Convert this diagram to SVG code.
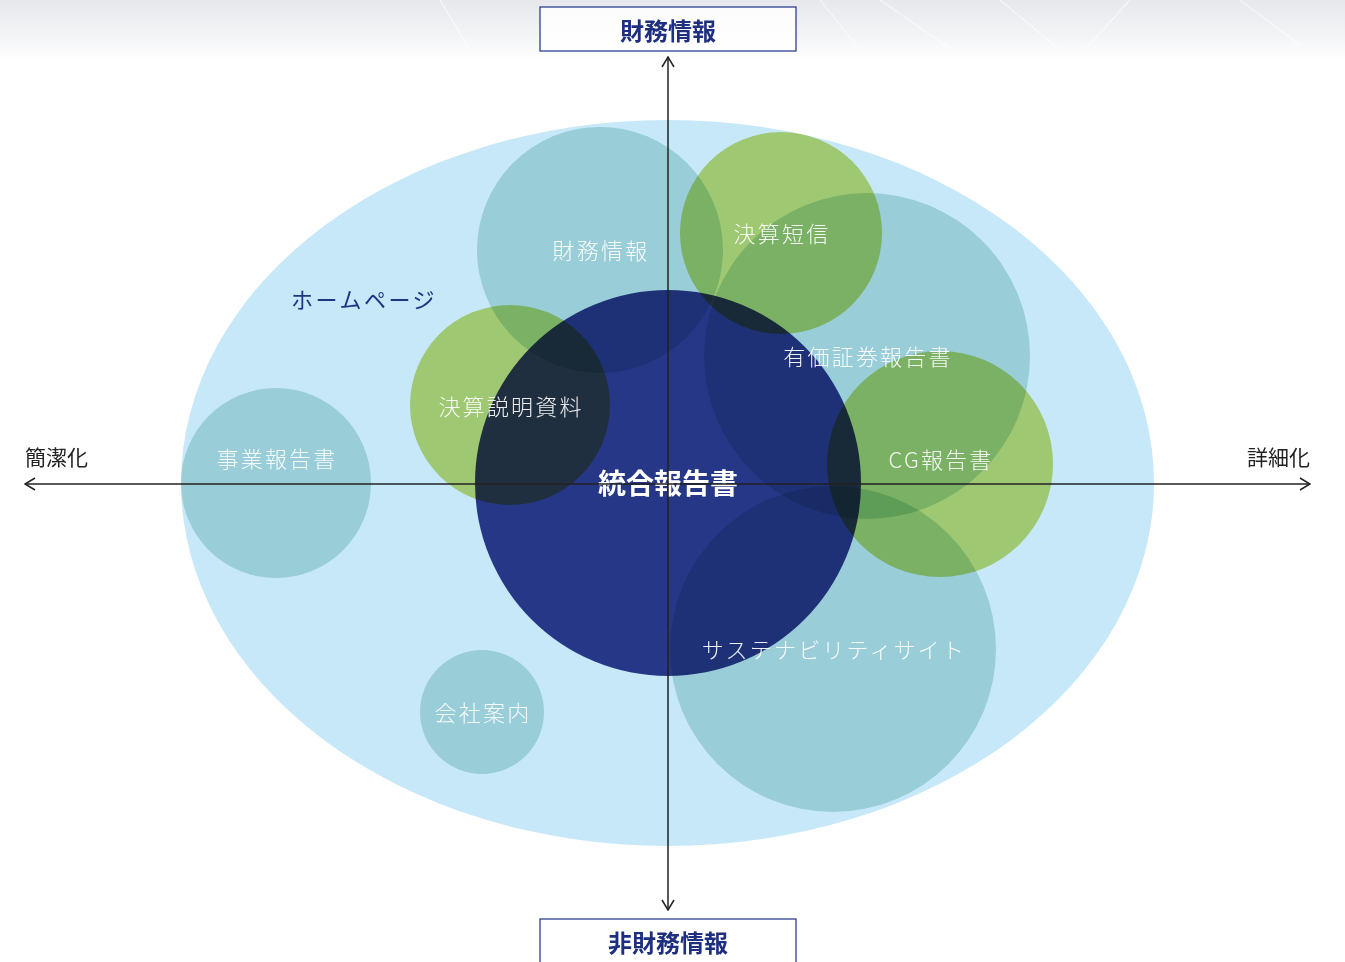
<svg xmlns="http://www.w3.org/2000/svg" width="1345" height="962" viewBox="0 0 1345 962">
<defs>
<linearGradient id="bg" x1="0" y1="0" x2="0" y2="1">
<stop offset="0" stop-color="#e6e8ec"/>
<stop offset="0.55" stop-color="#f2f3f5"/>
<stop offset="1" stop-color="#ffffff"/>
</linearGradient>
<marker id="arr" viewBox="0 0 12 14" refX="11" refY="7" markerWidth="12" markerHeight="14" markerUnits="userSpaceOnUse" orient="auto-start-reverse">
<path d="M1,1 L11,7 L1,13" fill="none" stroke="#222" stroke-width="1.5"/>
</marker>
<style>
.c{mix-blend-mode:multiply}
.teal{fill:#c4e2de}
.green{fill:#ccdc76}
.navy{fill:#323c8b}
.lbl{font-family:"Noto Sans CJK JP","Noto Sans",sans-serif;font-size:22px;font-weight:300;fill:#ffffff;fill-opacity:0.92;text-anchor:middle;dominant-baseline:central;letter-spacing:2.2px}
.ax{font-family:"Noto Sans CJK JP","Noto Sans",sans-serif;font-size:21px;font-weight:400;fill:#222;dominant-baseline:central}
.hdr{font-family:"Noto Sans CJK JP","Noto Sans",sans-serif;font-size:24px;font-weight:700;fill:#1f2f80;text-anchor:middle;dominant-baseline:central}
.box{fill:#ffffff;fill-opacity:0.85;stroke:#2e3f90;stroke-width:1.3}
.axis{stroke:#222;stroke-width:1.5;fill:none}
</style>
</defs>
<rect x="0" y="0" width="1345" height="962" fill="#ffffff"/>
<rect x="0" y="0" width="1345" height="60" fill="url(#bg)"/>
<g opacity="0.6" stroke="#ffffff" stroke-width="1.2">
<line x1="880" y1="0" x2="960" y2="55"/>
<line x1="1000" y1="0" x2="1060" y2="50"/>
<line x1="1130" y1="0" x2="1080" y2="55"/>
<line x1="1240" y1="0" x2="1300" y2="45"/>
<line x1="440" y1="0" x2="470" y2="50"/>
<line x1="820" y1="0" x2="860" y2="50"/>
</g>
<g id="homepage">
<ellipse cx="667.5" cy="483" rx="486.5" ry="363" fill="#c7e8f9"/>
<text x="364" y="298" style="font-family:'Noto Sans CJK JP','Noto Sans',sans-serif;font-size:22px;font-weight:400;fill:#1f3584;text-anchor:middle;dominant-baseline:central;letter-spacing:2.5px">ホームページ</text>
</g>
<g id="circles">
<circle id="c-zaimu" class="c teal" cx="600" cy="250" r="123"/>
<circle id="c-tanshin" class="c green" cx="781" cy="233" r="101"/>
<circle id="c-yuho" class="c teal" cx="867" cy="356" r="163"/>
<circle id="c-cg" class="c green" cx="940" cy="464" r="113"/>
<circle id="c-setsumei" class="c green" cx="510" cy="405" r="100"/>
<circle id="c-jigyo" class="c teal" cx="276" cy="483" r="95"/>
<circle id="c-kaisha" class="c teal" cx="482" cy="712" r="62"/>
<circle id="c-sustain" class="c teal" cx="833" cy="649" r="163"/>
<circle id="c-togo" class="c navy" cx="668" cy="483" r="193"/>
</g>
<g id="node-zaimu"><text class="lbl" x="601" y="249">財務情報</text></g>
<g id="node-tanshin"><text class="lbl" x="782" y="232">決算短信</text></g>
<g id="node-yuho"><text class="lbl" x="868" y="355">有価証券報告書</text></g>
<g id="node-cg"><text class="lbl" x="941" y="458">CG報告書</text></g>
<g id="node-setsumei"><text class="lbl" x="511" y="405">決算説明資料</text></g>
<g id="node-jigyo"><text class="lbl" x="277" y="457">事業報告書</text></g>
<g id="node-kaisha"><text class="lbl" x="483" y="711">会社案内</text></g>
<g id="node-sustain"><text class="lbl" x="834" y="648">サステナビリティサイト</text></g>
<g id="node-togo"><text x="668" y="482" style="font-family:'Noto Sans CJK JP','Noto Sans',sans-serif;font-size:28px;font-weight:700;fill:#ffffff;text-anchor:middle;dominant-baseline:central">統合報告書</text></g>
<g id="connectors">
<line class="axis" x1="668" y1="910" x2="668" y2="57" marker-start="url(#arr)" marker-end="url(#arr)"/>
<line class="axis" x1="25" y1="484" x2="1310" y2="484" marker-start="url(#arr)" marker-end="url(#arr)"/>
</g>
<g id="axis-left"><text class="ax" x="25" y="456">簡潔化</text></g>
<g id="axis-right"><text class="ax" x="1310" y="456" text-anchor="end">詳細化</text></g>
<g id="top-box">
<rect class="box" x="540" y="7" width="256" height="44"/>
<text class="hdr" x="668" y="29">財務情報</text>
</g>
<g id="bottom-box">
<rect class="box" x="540" y="919" width="256" height="50"/>
<text class="hdr" x="668" y="941">非財務情報</text>
</g>
</svg>
